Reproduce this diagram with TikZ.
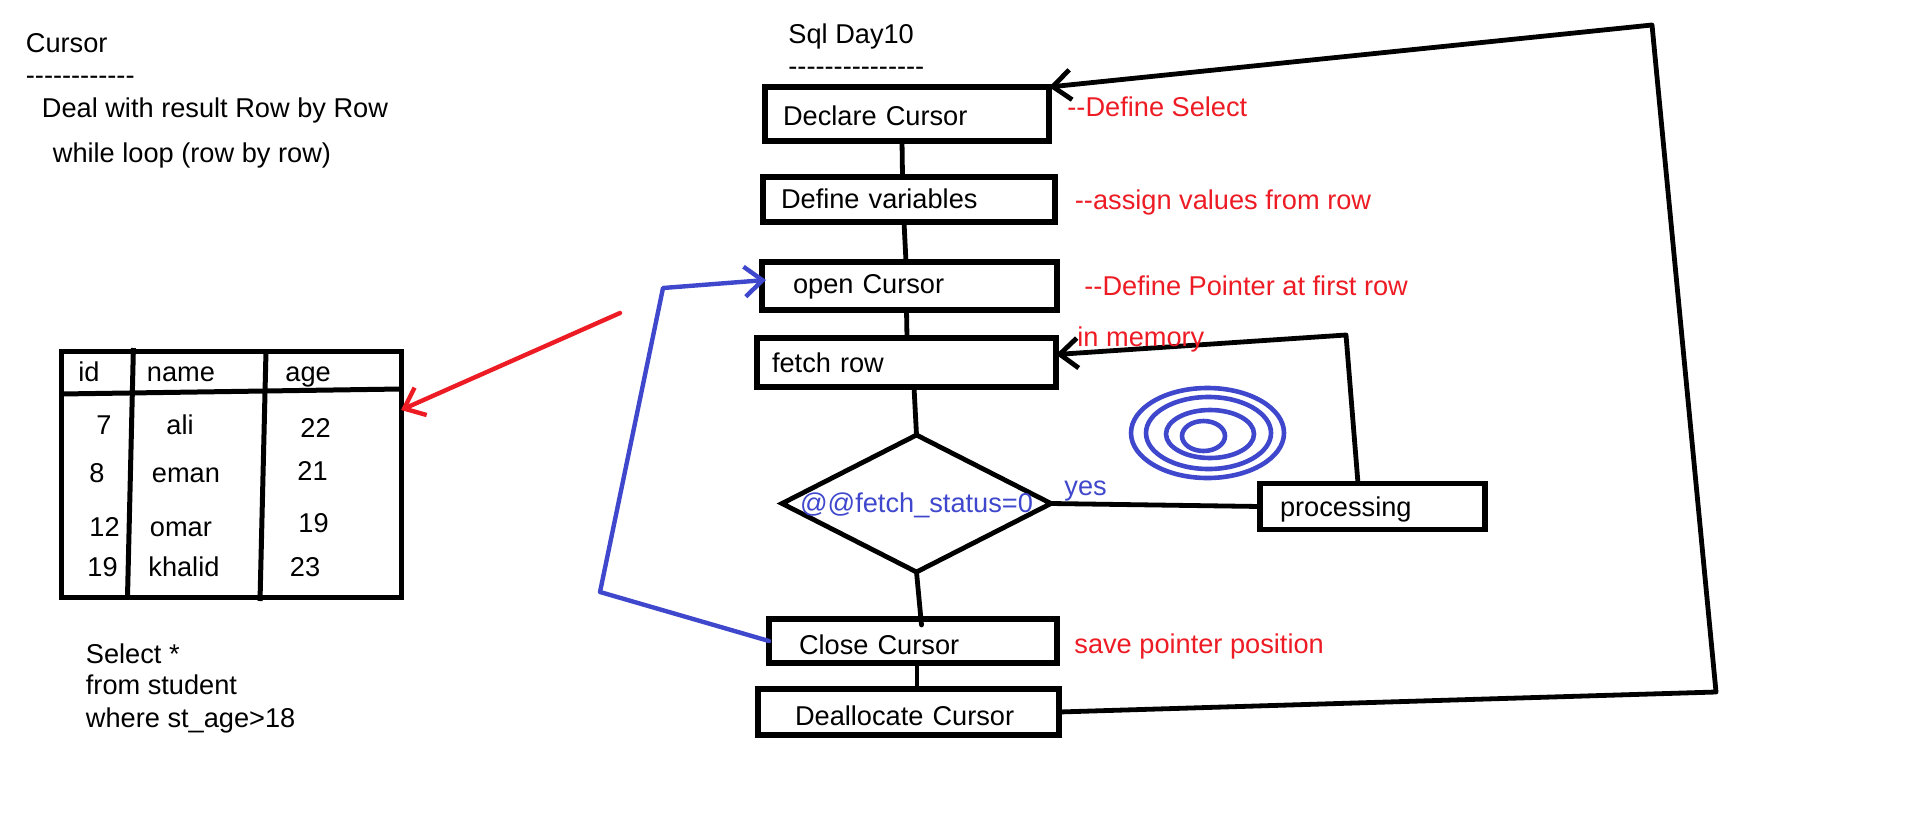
\documentclass[tikz,border=0pt]{standalone}
\usepackage{fontspec}
\newfontfamily\sketchfont{Liberation Sans}
\usetikzlibrary{positioning, arrows.meta, shapes.geometric}
\definecolor{paintred}{HTML}{ED1C24}
\definecolor{paintblue}{HTML}{3F48CC}

\begin{document}
\begin{tikzpicture}[
    x=0.5pt, y=-0.5pt,
    every node/.style={font=\sketchfont\fontsize{13.6}{16.2}\selectfont},
    box/.style={rectangle, draw, line width=2.6pt, inner sep=0pt, outer sep=0pt, align=left},
    decision/.style={diamond, draw, line width=2.4pt, inner sep=0pt, inner xsep=-5pt, outer sep=0pt, aspect=1.93, minimum width=134.5pt, minimum height=68.5pt, text=paintblue, text depth=1pt},
    note/.style={anchor=base west, inner sep=0pt},
    rednote/.style={note, text=paintred},
    link/.style={line width=2.4pt, line cap=round, line join=round},
    arrow/.style={link, -{Straight Barb[length=9pt, width=15pt]}},
    grid line/.style={line width=2.5pt}
]
    \useasboundingbox (0,0) rectangle (1914,813);

    % flow column
    \node[box, text width=142pt, minimum height=27pt, text height=11.5pt] (declare) at (907,114) {\hspace*{9pt}Declare Cursor};
    \node[box, text width=146pt, minimum height=22.5pt, text depth=1.2pt] (define) [below=18pt of declare, xshift=1pt] {\hspace*{9pt}Define variables};
    \node[box, text width=147.5pt, minimum height=24pt, text depth=2.5pt] (open) [below=20pt of define, xshift=0.25pt] {\hspace*{15.5pt}open Cursor};
    \node[box, text width=149.5pt, minimum height=24.5pt] (fetch) [below=14pt of open, xshift=-1.5pt] {\hspace*{7.5pt}fetch row};
    \node[decision] (status) [below=24pt of fetch, xshift=5pt] {@@fetch\_status=0};
    \node[box, text width=144pt, minimum height=22pt, text height=14pt] (close) [below=23.5pt of status, xshift=-1.75pt] {\hspace*{15pt}Close Cursor};
    \node[box, text width=150.5pt, minimum height=23pt, text height=14pt] (dealloc) [below=13pt of close, xshift=-2.25pt] {\hspace*{18.5pt}Deallocate Cursor};
    \node[box, text width=112.5pt, minimum height=23pt, text depth=0pt] (processing) [right=104.5pt of status, yshift=-1.5pt] {\hspace*{10pt}processing};

    \draw[link] ([xshift=-2.5pt]declare.south) -- ([xshift=-3.25pt]define.north);
    \draw[link] ([xshift=-2.5pt]define.south) -- ([xshift=-1.75pt]open.north);
    \draw[link] ([xshift=-1.5pt]open.south) -- ([xshift=0.25pt]fetch.north);
    \draw[link] ([xshift=3.75pt]fetch.south) -- (status.north);
    \draw[link] (status.south) -- ([xshift=4.25pt, yshift=-3pt]close.north);
    \draw[link] ([xshift=2pt]close.south) -- ([xshift=4.25pt]dealloc.north);
    \draw[link] (status.east) -- (processing.west);

    % loops
    \coordinate (backtop) at (1346,335);
    \draw[arrow] ([xshift=-7.25pt]processing.north) -- (backtop) -- ([yshift=4pt]fetch.east);
    \coordinate (loopright) at (1716,692);
    \coordinate (looptop) at (1652,25);
    \draw[arrow] (dealloc.east) -- (loopright) -- (looptop) -- (declare.north east);
    \coordinate (bluecorner) at (600,592);
    \coordinate (bluetop) at (663,288);
    \draw[arrow, paintblue, line width=2.2pt] (close.west) -- (bluecorner) -- (bluetop) -- ([shift={(2pt,3pt)}]open.west);

    % notes beside the flow
    \node[note] (title) at (788,44) {Sql Day10};
    \node[note] (titleline) at (788,75.5) {---------------};
    \node[rednote] (noteselect) at (1067,117) {--Define Select};
    \node[rednote] (noteassign) at (1074.5,209) {--assign values from row};
    \node[rednote] (notepointer) at (1084,295) {--Define Pointer at first row};
    \node[rednote] (notememory) at (1077,346) {in memory};
    \node[rednote] (notesave) at (1074,653) {save pointer position};
    \node[note, text=paintblue] (yes) at (1064,495.5) {yes};

    \draw[paintblue, line width=2.3pt] (1207.5,433) ellipse [x radius=76.5, y radius=45];
    \draw[paintblue, line width=2.3pt] (1208.5,433) ellipse [x radius=62.5, y radius=36];
    \draw[paintblue, line width=2.3pt] (1210,434) ellipse [x radius=44, y radius=24];
    \draw[paintblue, line width=2.3pt] (1203.5,436) ellipse [x radius=21.5, y radius=15];

    % left side
    \node[note] (heading) at (25.5,53) {Cursor};
    \node[note] (headingline) at (25.5,84) {------------};
    \node[note] (deal) at (41.5,117.5) {Deal with result Row by Row};
    \node[note] (while) at (52.5,162) {while loop (row by row)};

    \node[rectangle, draw, line width=2.5pt, outer sep=0pt, minimum width=170pt, minimum height=123pt] (table) at (231,474) {};
    \draw[grid line] ([yshift=40pt]table.west) -- ([yshift=42.5pt]table.east);
    \draw[grid line] ([xshift=-48.8pt, yshift=1.5pt]table.north) -- ([xshift=-51.75pt]table.south);
    \draw[grid line] ([xshift=17.5pt]table.north) -- ([xshift=14.5pt, yshift=-2pt]table.south);

    \foreach \x/\y/\t [count=\i] in {78/381/id, 146.5/381/name, 285/381/age,
        96/434.5/7, 166/434.5/ali, 300/437/22,
        89/482/8, 151.5/482/eman, 297/480/21,
        89/536/12, 149.5/536/omar, 298/532/19,
        87/576/19, 148/576/khalid, 289.5/576/23}
        \node[note] (cell\i) at (\x,\y) {\t};

    \coordinate (redstart) at (620,313);
    \draw[arrow, paintred, line width=2.2pt] (redstart) -- ([yshift=32pt]table.east);

    \node[note] (query1) at (85.5,663) {Select *};
    \node[note] (query2) at (85.5,694) {from student};
    \node[note] (query3) at (85.5,727) {where st\_age>18};
\end{tikzpicture}
\end{document}
